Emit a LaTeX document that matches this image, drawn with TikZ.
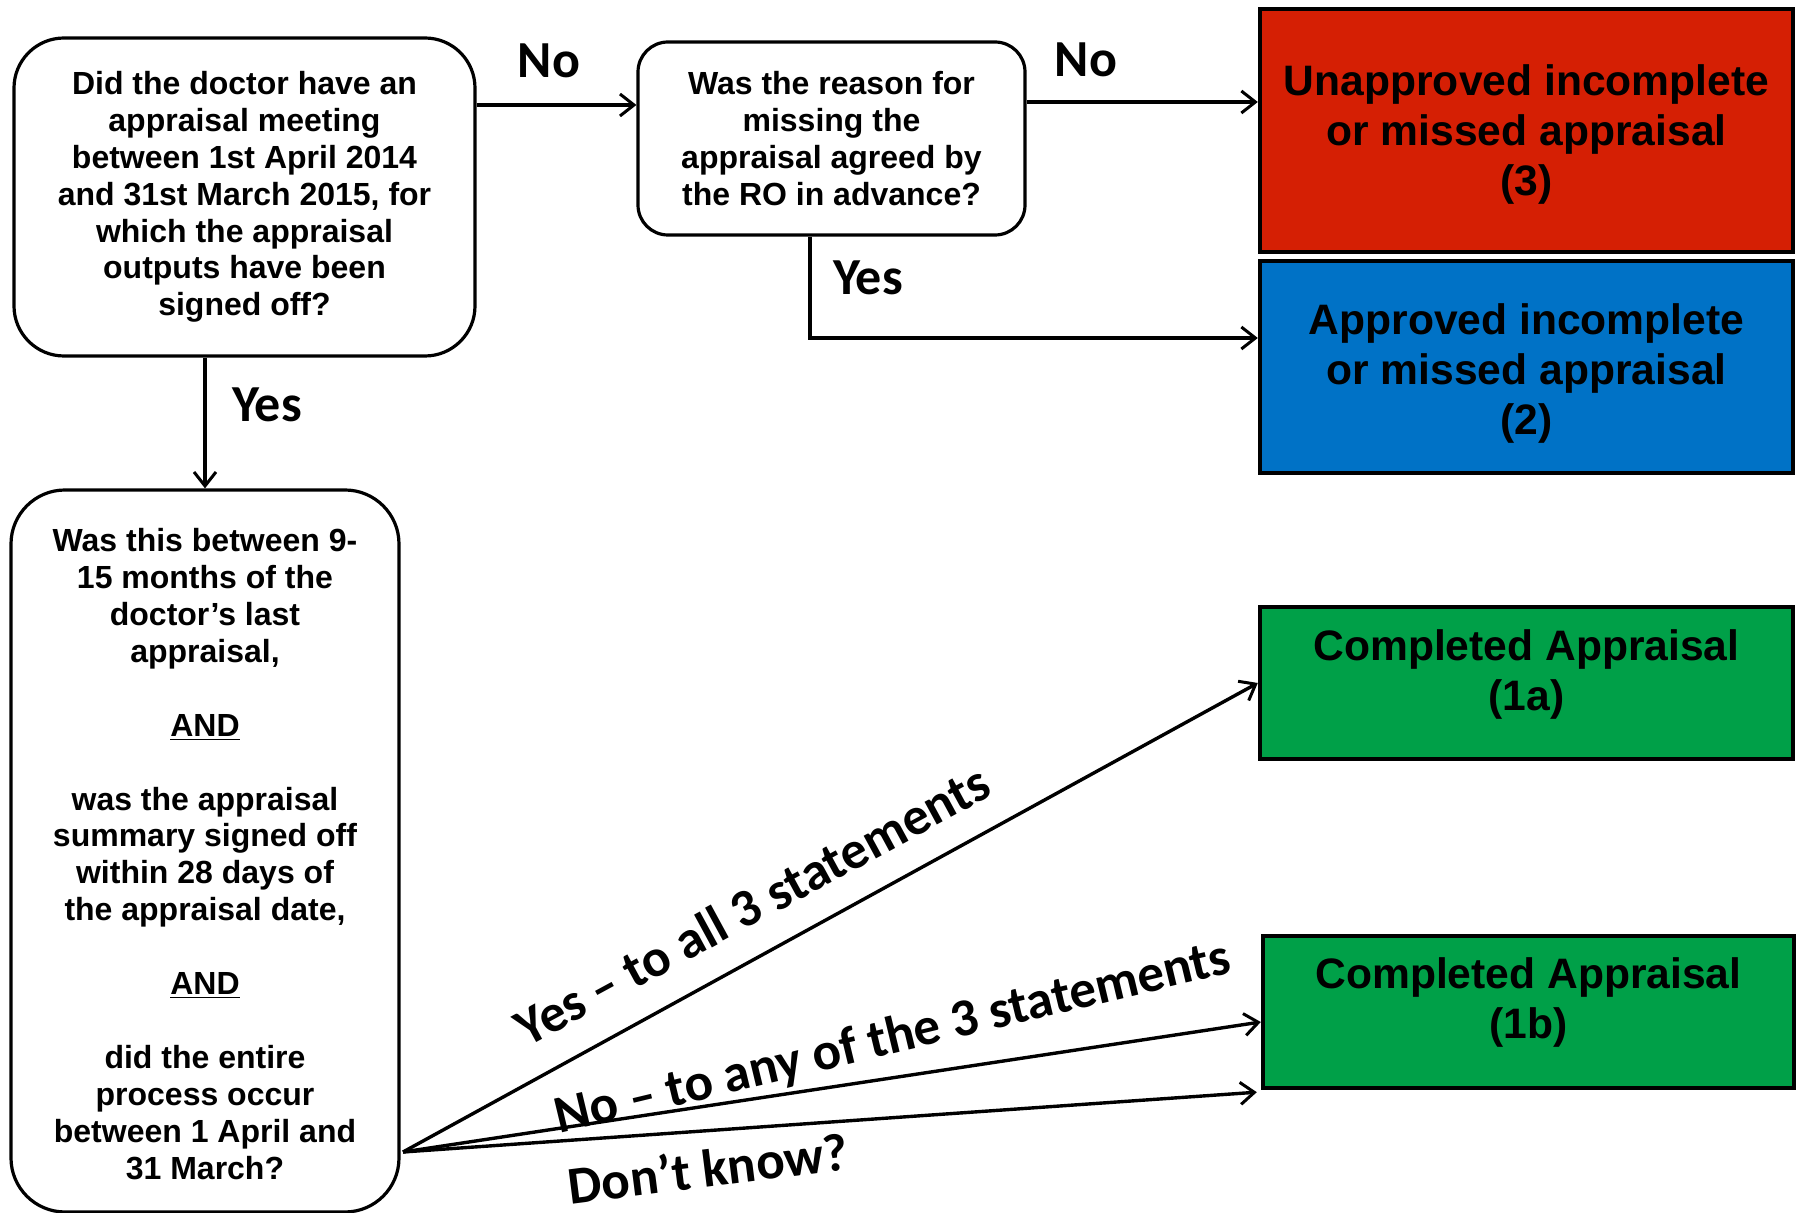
\documentclass[tikz,border=0pt]{standalone}
\usepackage{fontspec}
\setmainfont{Liberation Sans}
\newfontfamily\lblfont{Carlito}
\usetikzlibrary{arrows.meta,calc}
\definecolor{redbox}{RGB}{213,31,4}
\definecolor{bluebox}{RGB}{0,114,198}
\definecolor{greenbox}{RGB}{0,160,72}
\begin{document}
\begin{tikzpicture}[x=0.5pt,y=-0.5pt,
  qbox/.style={draw=black,line width=1.6pt,fill=white,align=center,inner sep=0pt,
     font=\fontsize{16}{18.45}\selectfont\bfseries},
  outbox/.style={draw=black,line width=2.2pt,inner sep=0pt},
  outtext/.style={align=center,inner sep=0pt,font=\fontsize{21.3}{25}\selectfont\bfseries},
  lbl/.style={inner sep=0pt,font=\lblfont\bfseries\fontsize{26}{30}\selectfont},
  flbl/.style={inner sep=0pt,font=\lblfont\bfseries\fontsize{26.6}{30}\selectfont},
  arr/.style={line width=1.7pt,-{Straight Barb[length=7pt,width=11pt,line width=1.5pt]}}
]
\useasboundingbox (0,0) rectangle (1796,1213);

% question boxes
\node[qbox, rounded corners=25pt, minimum width=230.5pt, minimum height=159pt] (A) at (244.5,197)
 {Did the doctor have an\\appraisal meeting\\between 1st April 2014\\and 31st March 2015, for\\which the appraisal\\outputs have been\\signed off?};
\node[qbox, rounded corners=15pt, minimum width=193.5pt, minimum height=96.5pt] (B) at (831.5,138.5)
 {Was the reason for\\missing the\\appraisal agreed by\\the RO in advance?};
\node[qbox, rounded corners=27pt, minimum width=194pt, minimum height=361pt] (C) at (205,851) {};
\node[qbox, draw=none, fill=none] (Ct) at (205,854)
 {Was this between 9-\\15 months of the\\doctor’s last\\appraisal,\\[18.45pt]\underline{AND}\\[18.45pt]was the appraisal\\summary signed off\\within 28 days of\\the appraisal date,\\[18.45pt]\underline{AND}\\[18.45pt]did the entire\\process occur\\between 1 April and\\31 March?};

% outcome boxes
\node[outbox, fill=redbox, minimum width=266.5pt, minimum height=121.5pt] (R) at (1526.5,130.5) {};
\node[outtext] (Rt) at (1526.5,134) {Unapproved incomplete\\or missed appraisal\\(3)};
\node[outbox, fill=bluebox, minimum width=266.5pt, minimum height=106pt] (Bl) at (1526.5,367) {};
\node[outtext] (Blt) at (1526.5,373) {Approved incomplete\\or missed appraisal\\(2)};
\node[outbox, fill=greenbox, minimum width=266.5pt, minimum height=76pt] (G1) at (1526.5,683) {};
\node[outtext] (G1t) at (1526.5,674) {Completed Appraisal\\(1a)};
\node[outbox, fill=greenbox, minimum width=265.5pt, minimum height=76pt] (G2) at (1528.5,1012) {};
\node[outtext] (G2t) at (1528.5,1002) {Completed Appraisal\\(1b)};

% connectors
\draw[arr] ([yshift=46pt]A.east) -- ([yshift=46pt]A.east -| B.west);
\draw[arr] ([yshift=18.25pt]B.east) -- ([yshift=18.25pt]B.east -| R.west);
\draw[arr] ([xshift=-10.75pt]B.south) |- ([yshift=14.5pt]Bl.west);
\draw[arr] (C.north |- A.south) -- (C.north);
\coordinate (fan) at (403,1152);
\draw[arr] (fan) -- (G1.west);
\draw[arr] (fan) -- ([yshift=-5pt]G2.west);
\draw[arr] (fan) -- ([xshift=-2pt,yshift=-1pt]G2.south west);

% labels
\node[lbl] (no1) at (549,61) {No};
\node[lbl] (no2) at (1086,60) {No};
\node[lbl] (yes1) at (868,278) {Yes};
\node[lbl] (yes2) at (267,405) {Yes};
\node[flbl, rotate=28.5] (lyes) at (752,905) {Yes – to all 3 statements};
\node[flbl, rotate=13.5] (lno) at (893,1039) {No – to any of the 3 statements};
\node[flbl, rotate=7.2] (ldk) at (708,1168) {Don’t know?};
\end{tikzpicture}
\end{document}
